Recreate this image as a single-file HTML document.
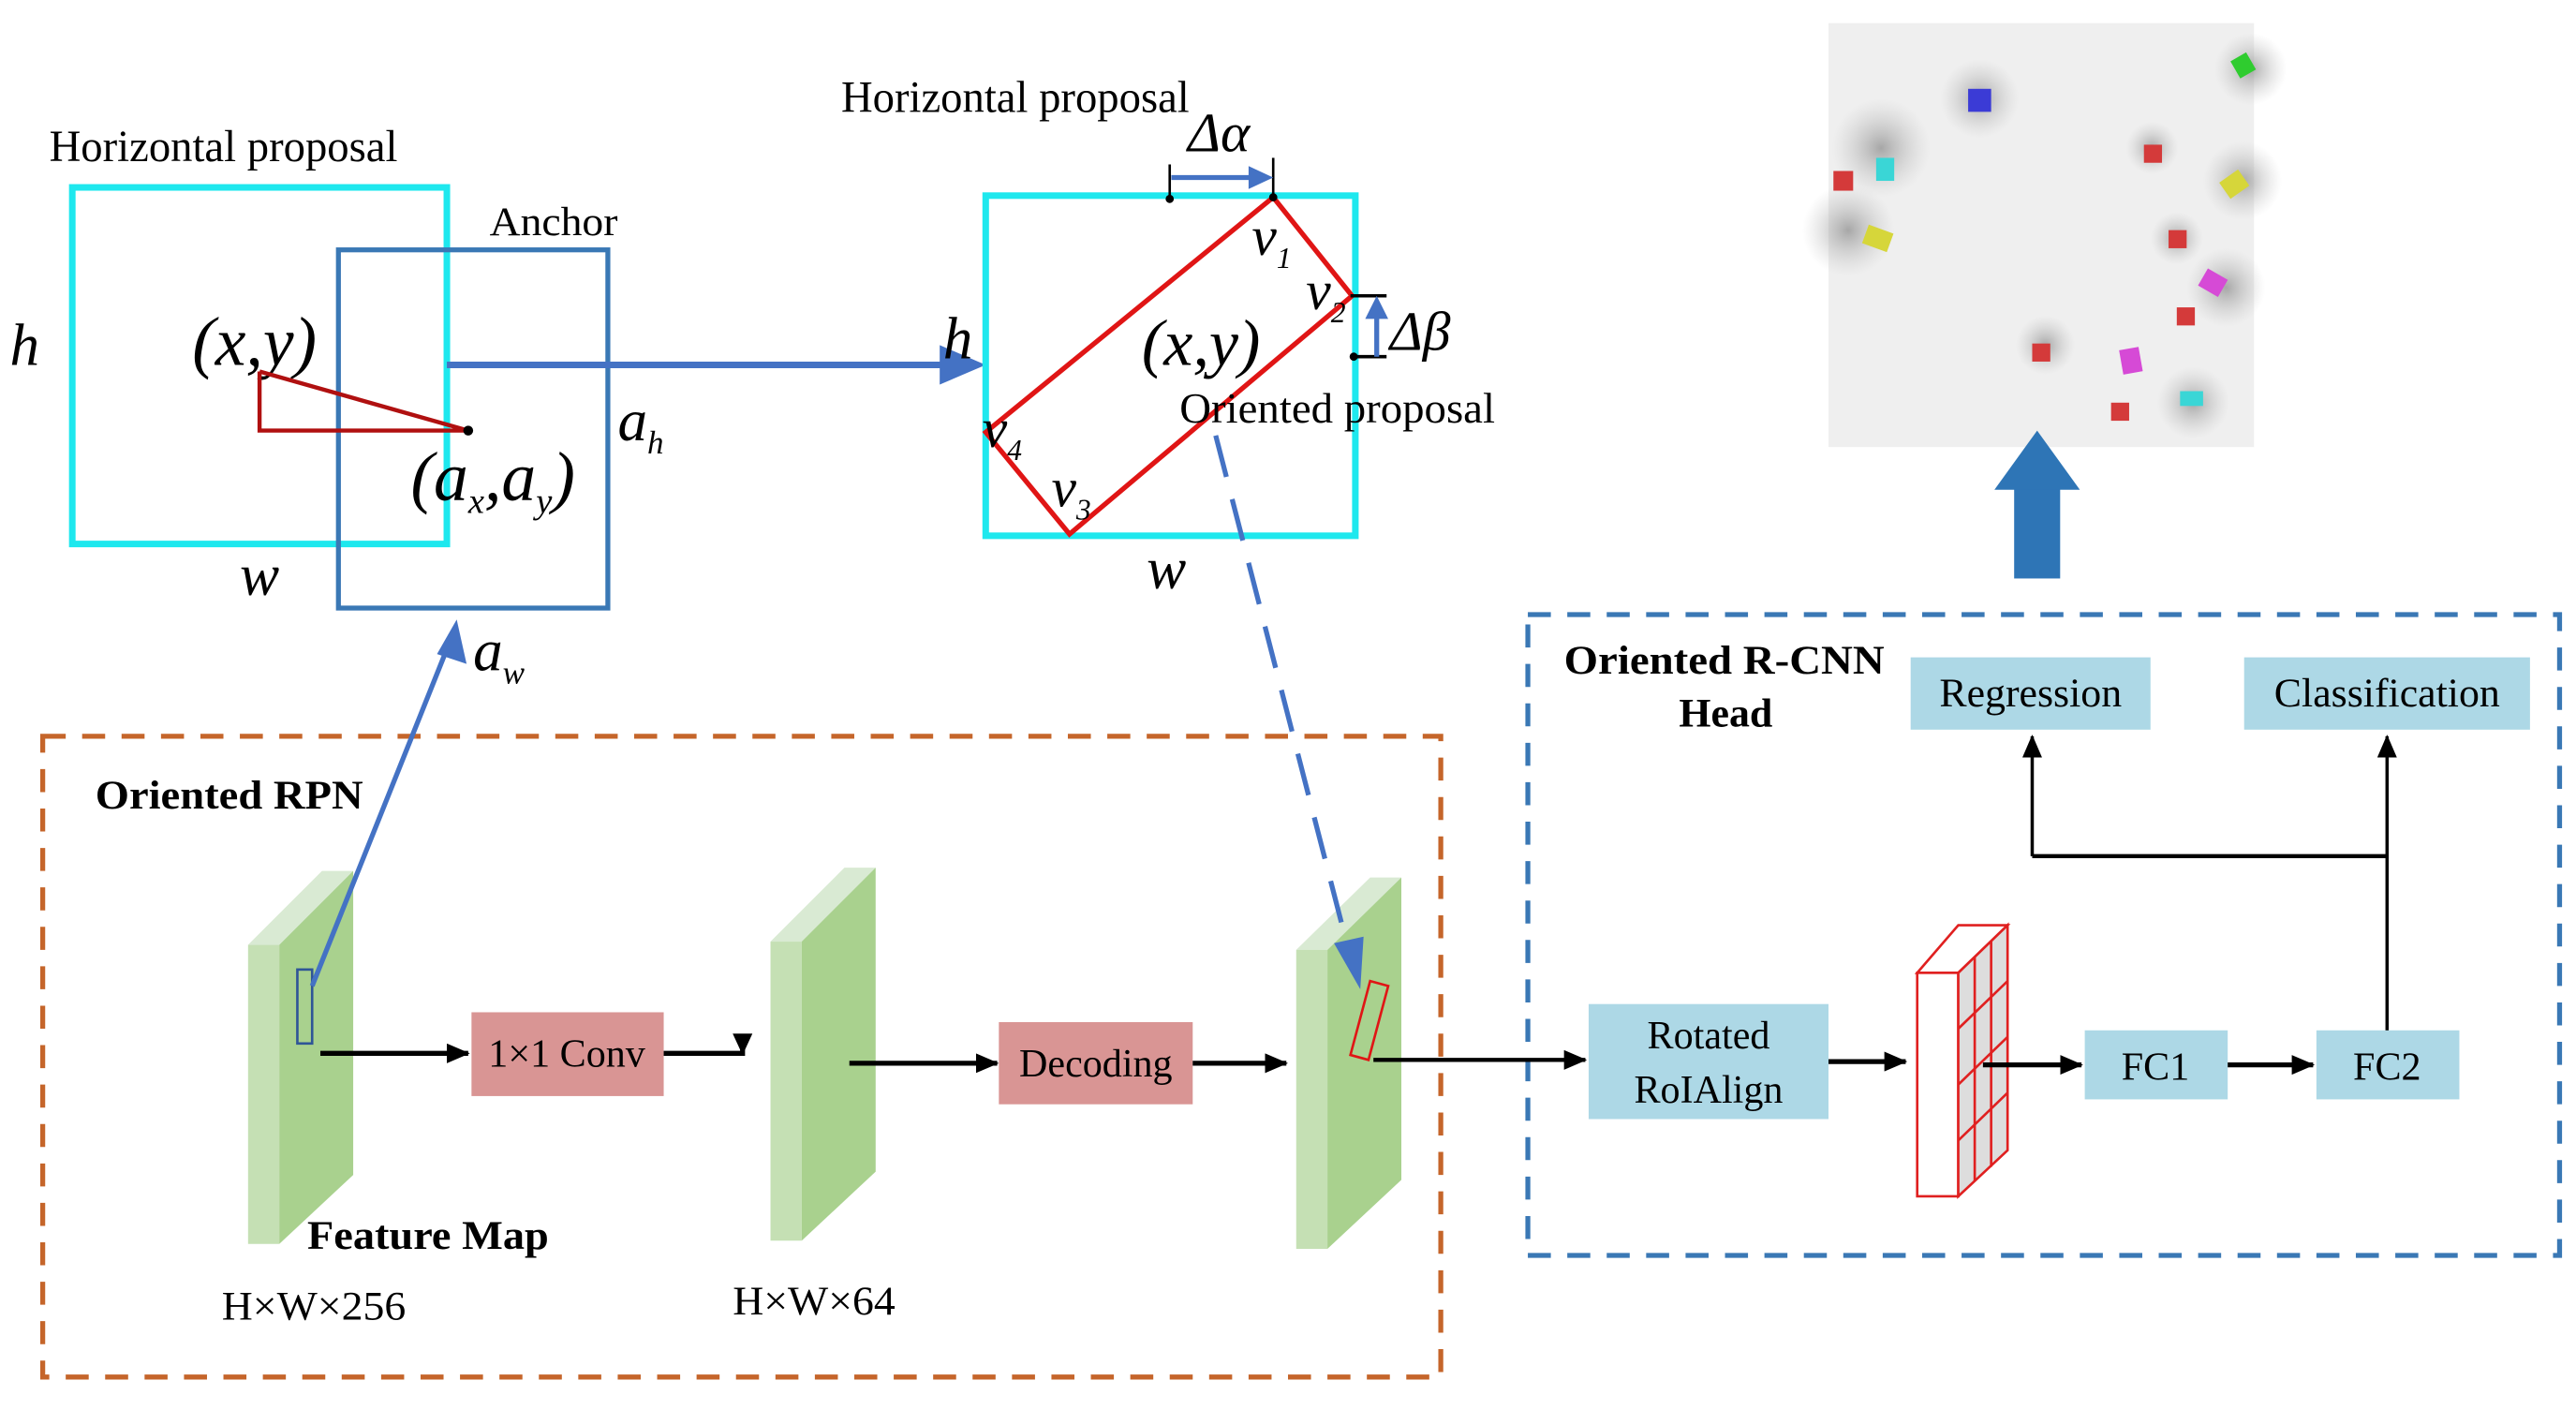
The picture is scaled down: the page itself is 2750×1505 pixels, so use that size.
<!DOCTYPE html>
<html><head><meta charset="utf-8"><style>
html,body{margin:0;padding:0;background:#fff;}
svg{display:block;}
text{font-family:"Liberation Serif",serif;}
</style></head><body>
<svg width="2750" height="1505" viewBox="0 0 1568 858" xmlns="http://www.w3.org/2000/svg">
<defs>
<marker id="ak" markerWidth="14" markerHeight="12" refX="13" refY="6" orient="auto" markerUnits="userSpaceOnUse"><path d="M0,0 L14,6 L0,12 Z" fill="#000"/></marker>
<radialGradient id="sh"><stop offset="0" stop-color="#888" stop-opacity=".7"/><stop offset="1" stop-color="#bbb" stop-opacity="0"/></radialGradient>
</defs>

<!-- left proposal -->
<text x="30" y="98" font-size="27" textLength="212" lengthAdjust="spacingAndGlyphs">Horizontal proposal</text>
<rect x="44" y="114" width="228" height="217" fill="none" stroke="#1ee8ee" stroke-width="4"/>
<rect x="206" y="152" width="164" height="218" fill="none" stroke="#3a78b5" stroke-width="3"/>
<text x="298" y="143" font-size="25" textLength="78" lengthAdjust="spacingAndGlyphs">Anchor</text>
<text x="6" y="222" font-size="36" font-style="italic">h</text>
<text x="117" y="222" font-size="42" font-style="italic">(x,y)</text>
<polyline points="158,226 285,262 158,262 158,226" fill="none" stroke="#b01010" stroke-width="2.5"/>
<circle cx="285" cy="262" r="3" fill="#000"/>
<text x="250" y="304" font-size="42" font-style="italic">(a<tspan font-size="22" dy="8">x</tspan><tspan dy="-8">,a</tspan><tspan font-size="22" dy="8">y</tspan><tspan dy="-8">)</tspan></text>
<text x="376" y="268" font-size="36" font-style="italic">a<tspan font-size="20" dy="8">h</tspan></text>
<text x="146" y="362" font-size="36" font-style="italic">w</text>
<text x="288" y="408" font-size="36" font-style="italic">a<tspan font-size="20" dy="8">w</tspan></text>

<line x1="272" y1="222" x2="575" y2="222" stroke="#4472c4" stroke-width="4"/>
<path d="M572,210 L600,222 L572,234 Z" fill="#4472c4"/>

<!-- right proposal -->
<text x="512" y="68" font-size="27" textLength="212" lengthAdjust="spacingAndGlyphs">Horizontal proposal</text>
<rect x="600" y="119" width="225" height="207" fill="none" stroke="#1ee8ee" stroke-width="4"/>
<polygon points="775,120 823,180 651,325 600,263" fill="none" stroke="#e01515" stroke-width="3"/>
<text x="723" y="92" font-size="34" font-style="italic">Δα</text>
<line x1="712" y1="100" x2="712" y2="122" stroke="#000" stroke-width="1.5"/>
<line x1="775" y1="96" x2="775" y2="120" stroke="#000" stroke-width="1.5"/>
<circle cx="712" cy="121" r="2.5" fill="#000"/><circle cx="775" cy="120" r="2.5" fill="#000"/>
<line x1="713" y1="108" x2="762" y2="108" stroke="#4472c4" stroke-width="3"/>
<path d="M760,101 L775,108 L760,115 Z" fill="#4472c4"/>
<line x1="822" y1="180" x2="844" y2="180" stroke="#000" stroke-width="2"/>
<line x1="822" y1="217" x2="844" y2="217" stroke="#000" stroke-width="2"/>
<circle cx="824" cy="217" r="2.5" fill="#000"/>
<line x1="838" y1="217" x2="838" y2="192" stroke="#4472c4" stroke-width="3"/>
<path d="M831,194 L838,180 L845,194 Z" fill="#4472c4"/>
<text x="846" y="213" font-size="34" font-style="italic">Δβ</text>
<text x="762" y="155" font-size="34" font-style="italic">v<tspan font-size="18" dy="8">1</tspan></text>
<text x="795" y="188" font-size="34" font-style="italic">v<tspan font-size="18" dy="8">2</tspan></text>
<text x="640" y="308" font-size="34" font-style="italic">v<tspan font-size="18" dy="8">3</tspan></text>
<text x="598" y="272" font-size="34" font-style="italic">v<tspan font-size="18" dy="8">4</tspan></text>
<text x="574" y="218" font-size="36" font-style="italic">h</text>
<text x="695" y="222" font-size="40" font-style="italic">(x,y)</text>
<text x="718" y="257" font-size="26" textLength="192" lengthAdjust="spacingAndGlyphs">Oriented proposal</text>
<text x="698" y="358" font-size="36" font-style="italic">w</text>

<!-- result image -->
<rect x="1113" y="14" width="259" height="258" fill="#efefef"/>
<g>
<circle cx="1145" cy="90" r="30" fill="url(#sh)"/><circle cx="1205" cy="60" r="24" fill="url(#sh)"/>
<circle cx="1370" cy="42" r="22" fill="url(#sh)"/><circle cx="1365" cy="110" r="24" fill="url(#sh)"/>
<circle cx="1125" cy="140" r="28" fill="url(#sh)"/><circle cx="1355" cy="175" r="24" fill="url(#sh)"/>
<circle cx="1335" cy="245" r="22" fill="url(#sh)"/><circle cx="1245" cy="210" r="18" fill="url(#sh)"/>
<circle cx="1310" cy="90" r="16" fill="url(#sh)"/><circle cx="1325" cy="145" r="16" fill="url(#sh)"/>
<rect x="1198" y="54" width="14" height="14" fill="#3b3bd6"/>
<rect x="1360" y="34" width="11" height="12" fill="#2fcc2f" transform="rotate(-30 1365 40)"/>
<rect x="1142" y="96" width="11" height="14" fill="#3ad6d6"/>
<rect x="1116" y="104" width="12" height="12" fill="#d43a3a"/>
<rect x="1135" y="139" width="16" height="12" fill="#d6d63a" transform="rotate(20 1143 145)"/>
<rect x="1305" y="88" width="11" height="11" fill="#d43a3a"/>
<rect x="1353" y="106" width="14" height="12" fill="#d6d63a" transform="rotate(-35 1360 112)"/>
<rect x="1320" y="140" width="11" height="11" fill="#d43a3a"/>
<rect x="1340" y="166" width="14" height="12" fill="#d64ad6" transform="rotate(30 1347 172)"/>
<rect x="1325" y="187" width="11" height="11" fill="#d43a3a"/>
<rect x="1237" y="209" width="11" height="11" fill="#d43a3a"/>
<rect x="1291" y="212" width="12" height="15" fill="#d64ad6" transform="rotate(-10 1297 219)"/>
<rect x="1327" y="238" width="14" height="9" fill="#3ad6d6"/>
<rect x="1285" y="245" width="11" height="11" fill="#d43a3a"/>
</g>
<rect x="1226" y="296" width="28" height="56" fill="#2e75b6"/>
<path d="M1214,298 L1240,262 L1266,298 Z" fill="#2e75b6"/>

<!-- dashed boxes -->
<rect x="26" y="448" width="851" height="390" fill="none" stroke="#c5652a" stroke-width="3" stroke-dasharray="14,10"/>
<rect x="930" y="374" width="628" height="390" fill="none" stroke="#3a78b5" stroke-width="3" stroke-dasharray="14,10"/>
<text x="58" y="492" font-size="25" font-weight="bold" textLength="163" lengthAdjust="spacingAndGlyphs">Oriented RPN</text>
<text x="952" y="410" font-size="25" font-weight="bold" textLength="195" lengthAdjust="spacingAndGlyphs">Oriented R-CNN</text>
<text x="1022" y="442" font-size="25" font-weight="bold">Head</text>

<!-- slabs -->
<g>
<polygon points="151,575 196,530 215,530 170,575" fill="#d9ead3"/>
<rect x="151" y="575" width="19" height="182" fill="#c5e0b4"/>
<polygon points="170,575 215,530 215,715 170,757" fill="#a9d18e"/>
<polygon points="469,573 514,528 533,528 488,573" fill="#d9ead3"/>
<rect x="469" y="573" width="19" height="182" fill="#c5e0b4"/>
<polygon points="488,573 533,528 533,713 488,755" fill="#a9d18e"/>
<polygon points="789,578 834,534 853,534 808,578" fill="#d9ead3"/>
<rect x="789" y="578" width="19" height="182" fill="#c5e0b4"/>
<polygon points="808,578 853,534 853,718 808,760" fill="#a9d18e"/>
</g>
<rect x="181" y="590" width="9" height="45" fill="none" stroke="#2f5597" stroke-width="1.5"/>
<polygon points="834,597 845,600 833,645 822,642" fill="none" stroke="#e01515" stroke-width="1.5"/>
<text x="187" y="760" font-size="25" font-weight="bold" textLength="147" lengthAdjust="spacingAndGlyphs">Feature Map</text>
<text x="135" y="803" font-size="25" textLength="112" lengthAdjust="spacingAndGlyphs">H×W×256</text>
<text x="446" y="800" font-size="25" textLength="99" lengthAdjust="spacingAndGlyphs">H×W×64</text>

<!-- blue arrows over slabs -->
<line x1="190" y1="600" x2="272" y2="395" stroke="#4472c4" stroke-width="3"/>
<path d="M278,377 L284,404 L266,398 Z" fill="#4472c4"/>
<line x1="740" y1="265" x2="820" y2="575" stroke="#4472c4" stroke-width="3" stroke-dasharray="26,14"/>
<path d="M812,574 L828,602 L830,570 Z" fill="#4472c4"/>

<!-- pipeline -->
<line x1="195" y1="641" x2="285" y2="641" stroke="#000" stroke-width="3" marker-end="url(#ak)"/>
<rect x="287" y="616" width="117" height="51" fill="#d99594"/>
<text x="345" y="649" font-size="24" text-anchor="middle">1×1 Conv</text>
<polyline points="404,641 452,641 452,632" fill="none" stroke="#000" stroke-width="3"/>
<path d="M446,629 L452,642 L458,629 Z" fill="#000"/>
<line x1="517" y1="647" x2="607" y2="647" stroke="#000" stroke-width="3" marker-end="url(#ak)"/>
<rect x="608" y="622" width="118" height="50" fill="#d99594"/>
<text x="667" y="655" font-size="24" text-anchor="middle">Decoding</text>
<line x1="726" y1="647" x2="783" y2="647" stroke="#000" stroke-width="3" marker-end="url(#ak)"/>
<line x1="836" y1="645" x2="965" y2="645" stroke="#000" stroke-width="2.5" marker-end="url(#ak)"/>
<rect x="967" y="611" width="146" height="70" fill="#add8e6"/>
<text x="1040" y="638" font-size="24" text-anchor="middle">Rotated</text>
<text x="1040" y="671" font-size="24" text-anchor="middle">RoIAlign</text>
<line x1="1113" y1="646" x2="1160" y2="646" stroke="#000" stroke-width="3" marker-end="url(#ak)"/>
<g stroke="#e02020" stroke-width="1.5">
<polygon points="1167,592 1192,563 1222,563 1192,592" fill="#fff"/>
<rect x="1167" y="592" width="25" height="136" fill="#fff"/>
<polygon points="1192,592 1222,563 1222,700 1192,728" fill="#ddd"/>
<line x1="1202" y1="582" x2="1202" y2="719"/><line x1="1212" y1="573" x2="1212" y2="710"/>
<line x1="1192" y1="626" x2="1222" y2="597"/><line x1="1192" y1="660" x2="1222" y2="631"/><line x1="1192" y1="694" x2="1222" y2="665"/>
</g>
<line x1="1207" y1="648" x2="1267" y2="648" stroke="#000" stroke-width="3" marker-end="url(#ak)"/>
<rect x="1269" y="627" width="87" height="42" fill="#add8e6"/>
<text x="1312" y="657" font-size="24" text-anchor="middle">FC1</text>
<line x1="1356" y1="648" x2="1408" y2="648" stroke="#000" stroke-width="3" marker-end="url(#ak)"/>
<rect x="1410" y="627" width="87" height="42" fill="#add8e6"/>
<text x="1453" y="657" font-size="24" text-anchor="middle">FC2</text>
<line x1="1453" y1="627" x2="1453" y2="448" stroke="#000" stroke-width="2" marker-end="url(#ak)"/>
<line x1="1237" y1="521" x2="1453" y2="521" stroke="#000" stroke-width="2.5"/>
<line x1="1237" y1="521" x2="1237" y2="448" stroke="#000" stroke-width="2" marker-end="url(#ak)"/>
<rect x="1163" y="400" width="146" height="44" fill="#add8e6"/>
<text x="1236" y="430" font-size="25" text-anchor="middle">Regression</text>
<rect x="1366" y="400" width="174" height="44" fill="#add8e6"/>
<text x="1453" y="430" font-size="25" text-anchor="middle">Classification</text>
</svg>
</body></html>
